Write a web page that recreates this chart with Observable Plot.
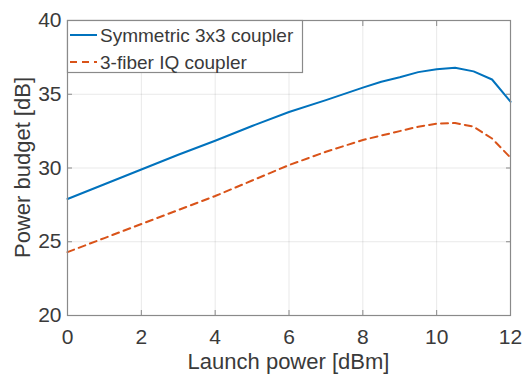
<!DOCTYPE html>
<html>
<head>
<meta charset="utf-8">
<script src="https://cdn.jsdelivr.net/npm/d3@7"></script>
<script src="https://cdn.jsdelivr.net/npm/@observablehq/plot@0.6"></script>
<style>
  html, body { margin: 0; padding: 0; background: #fff; }
  #chart { width: 527px; height: 379px; }
</style>
</head>
<body>
<div id="chart"></div>
<script>
const launchPower = [0, 1, 2, 3, 4, 5, 6, 7, 8, 8.5, 9, 9.5, 10, 10.5, 11, 11.5, 12];
const symmetric3x3 = [27.9, 28.9, 29.9, 30.9, 31.85, 32.85, 33.8, 34.6, 35.45, 35.85, 36.15, 36.5, 36.7, 36.8, 36.55, 36.0, 34.5];
const iqCoupler = [24.3, 25.25, 26.2, 27.15, 28.1, 29.15, 30.2, 31.1, 31.9, 32.2, 32.5, 32.8, 33.0, 33.05, 32.8, 32.0, 30.7];
const seriesNames = ["Symmetric 3x3 coupler", "3-fiber IQ coupler"];
const xTicks = [0, 2, 4, 6, 8, 10, 12];
const yTicks = [20, 25, 30, 35, 40];

const rows = [];
launchPower.forEach((x, i) => {
  rows.push({x, y: symmetric3x3[i], s: seriesNames[0]});
  rows.push({x, y: iqCoupler[i], s: seriesNames[1]});
});
const blue = "#0072BD", orange = "#D95319";
const axisColor = "#3a3a3a";
const font = "Liberation Sans, Arial, Helvetica, sans-serif";

const plot = Plot.plot({
  width: 527,
  height: 379,
  marginLeft: 67,
  marginRight: 17,
  marginTop: 20,
  marginBottom: 64,
  style: {fontFamily: font, fontSize: "21px", color: axisColor, background: "#fff"},
  x: {domain: [0, 12]},
  y: {domain: [20, 40]},
  marks: [
    Plot.gridX(xTicks, {stroke: "#000", strokeOpacity: 0.09}),
    Plot.gridY(yTicks, {stroke: "#000", strokeOpacity: 0.09}),
    Plot.line(rows.filter(d => d.s === seriesNames[0]), {x: "x", y: "y", stroke: blue, strokeWidth: 2}),
    Plot.line(rows.filter(d => d.s === seriesNames[1]), {x: "x", y: "y", stroke: orange, strokeWidth: 2, strokeDasharray: "7,5"}),
    Plot.frame({stroke: "#8a8a8a", strokeWidth: 1.2}),
    Plot.axisX(xTicks, {anchor: "bottom", tickSize: -5, tickPadding: 19, stroke: "#8a8a8a", fill: axisColor, fontSize: 21, label: null}),
    Plot.axisX(xTicks, {anchor: "top", tickSize: -5, stroke: "#8a8a8a", text: null, label: null}),
    Plot.axisY(yTicks, {anchor: "left", tickSize: -5, tickPadding: 11, stroke: "#8a8a8a", fill: axisColor, fontSize: 21, label: null}),
    Plot.axisY(yTicks, {anchor: "right", tickSize: -5, stroke: "#8a8a8a", text: null, label: null})
  ]
});
document.getElementById("chart").appendChild(plot);

const svg = d3.select(plot);
// axis titles
svg.append("text")
  .attr("x", 288.5).attr("y", 369)
  .attr("text-anchor", "middle")
  .attr("font-family", font).attr("font-size", 22).attr("fill", axisColor)
  .text("Launch power [dBm]");
svg.append("text")
  .attr("transform", "translate(30,167.5) rotate(-90)")
  .attr("text-anchor", "middle")
  .attr("font-family", font).attr("font-size", 22).attr("fill", axisColor)
  .text("Power budget [dB]");

// legend
const lg = svg.append("g");
lg.append("rect").attr("x", 67.5).attr("y", 20.5).attr("width", 235).attr("height", 52)
  .attr("fill", "#fff").attr("stroke", "#8a8a8a").attr("stroke-width", 1.2);
const styles = [{c: blue, d: null}, {c: orange, d: "7,5"}];
seriesNames.forEach((name, i) => {
  const y = 35 + i * 27;
  lg.append("line").attr("x1", 70).attr("x2", 97).attr("y1", y).attr("y2", y)
    .attr("stroke", styles[i].c).attr("stroke-width", 2)
    .attr("stroke-dasharray", styles[i].d);
  lg.append("text").attr("x", 100).attr("y", y + 7)
    .attr("text-anchor", "start")
    .attr("font-family", font).attr("font-size", 19).attr("fill", axisColor)
    .text(name);
});
</script>
</body>
</html>
